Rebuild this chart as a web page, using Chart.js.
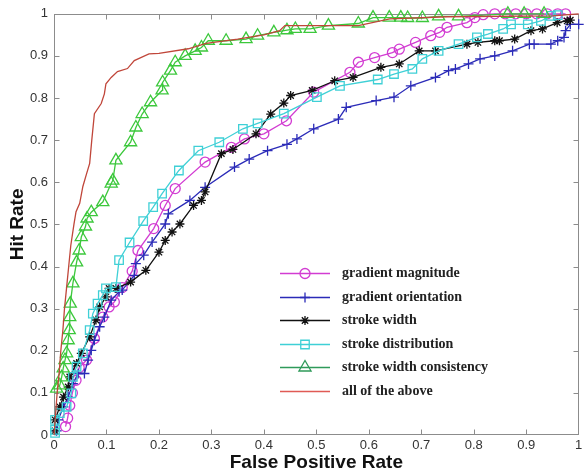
<!DOCTYPE html>
<html>
<head>
<meta charset="utf-8">
<script src="https://cdn.jsdelivr.net/npm/chart.js@4/dist/chart.umd.min.js"></script>
<style>
html,body{margin:0;padding:0;background:#fff;}
#wrap{width:587px;height:474px;position:relative;}
</style>
</head>
<body>
<div id="wrap"><canvas id="c" width="587" height="474"></canvas></div>
<script>
// ---- Data ----
const xTickLabels = ['0','0.1','0.2','0.3','0.4','0.5','0.6','0.7','0.8','0.9','1'];
const yTickLabels = ['0','0.1','0.2','0.3','0.4','0.5','0.6','0.7','0.8','0.9','1'];
const seriesNames = ['gradient magnitude','gradient orientation','stroke width','stroke distribution','stroke width consistency','all of the above'];

const magFpr = [0.022,0.026,0.030,0.035,0.042,0.048,0.062,0.077,0.093,0.105,0.115,0.130,0.149,0.160,0.190,0.212,0.231,0.288,0.338,0.363,0.400,0.443,0.495,0.564,0.580,0.611,0.645,0.658,0.689,0.718,0.735,0.749,0.787,0.802,0.818,0.840,0.860,0.880,0.900,0.920,0.940,0.960,0.975];
const magHit = [0.020,0.040,0.070,0.100,0.130,0.160,0.178,0.229,0.280,0.304,0.316,0.350,0.389,0.438,0.490,0.545,0.585,0.648,0.683,0.703,0.715,0.746,0.814,0.861,0.885,0.896,0.908,0.916,0.932,0.948,0.956,0.968,0.979,0.991,0.998,1.000,1.000,1.000,1.000,1.000,1.000,1.000,1.000];

const oriFpr = [0.005,0.008,0.018,0.027,0.036,0.046,0.058,0.065,0.071,0.077,0.087,0.096,0.109,0.124,0.130,0.153,0.156,0.171,0.187,0.212,0.218,0.259,0.288,0.344,0.372,0.407,0.444,0.463,0.495,0.542,0.557,0.614,0.648,0.680,0.727,0.752,0.765,0.790,0.812,0.840,0.874,0.906,0.915,0.947,0.960,0.972,0.975,0.984,1.000];
const oriHit = [0.010,0.036,0.067,0.090,0.122,0.146,0.146,0.178,0.201,0.225,0.257,0.280,0.320,0.340,0.344,0.379,0.407,0.427,0.458,0.501,0.525,0.557,0.588,0.636,0.655,0.675,0.690,0.703,0.727,0.750,0.778,0.794,0.802,0.829,0.849,0.865,0.869,0.881,0.893,0.900,0.912,0.928,0.928,0.928,0.936,0.944,0.960,0.975,0.975];

const swFpr = [0.002,0.002,0.011,0.018,0.027,0.030,0.043,0.052,0.068,0.080,0.087,0.099,0.105,0.118,0.146,0.175,0.200,0.212,0.225,0.240,0.266,0.281,0.288,0.319,0.341,0.385,0.413,0.438,0.451,0.492,0.535,0.570,0.623,0.658,0.696,0.727,0.787,0.808,0.840,0.849,0.878,0.909,0.931,0.959,0.978,0.984];
const swHit = [0.010,0.036,0.067,0.090,0.114,0.138,0.170,0.194,0.233,0.273,0.304,0.328,0.348,0.348,0.363,0.391,0.434,0.462,0.482,0.501,0.545,0.557,0.577,0.668,0.678,0.715,0.762,0.788,0.806,0.818,0.841,0.849,0.873,0.881,0.912,0.912,0.928,0.932,0.936,0.936,0.940,0.960,0.964,0.979,0.983,0.985];

const sdFpr = [0.002,0.002,0.002,0.011,0.024,0.033,0.036,0.043,0.055,0.068,0.074,0.083,0.093,0.099,0.118,0.124,0.144,0.170,0.189,0.206,0.238,0.275,0.315,0.360,0.388,0.438,0.501,0.545,0.617,0.648,0.683,0.702,0.733,0.771,0.806,0.827,0.856,0.871,0.903,0.928,0.947,0.960];
const sdHit = [0.005,0.012,0.036,0.052,0.067,0.099,0.138,0.162,0.194,0.249,0.288,0.312,0.332,0.348,0.351,0.415,0.457,0.508,0.541,0.573,0.628,0.675,0.695,0.727,0.740,0.763,0.802,0.829,0.844,0.857,0.869,0.893,0.912,0.928,0.944,0.952,0.964,0.975,0.975,0.983,0.995,0.997];

const swcFpr = [0.005,0.011,0.0145,0.0175,0.021,0.024,0.027,0.029,0.030,0.031,0.036,0.043,0.048,0.052,0.060,0.063,0.071,0.093,0.109,0.112,0.118,0.146,0.156,0.168,0.184,0.206,0.207,0.222,0.231,0.250,0.269,0.281,0.294,0.328,0.366,0.388,0.419,0.444,0.460,0.488,0.523,0.580,0.608,0.639,0.661,0.674,0.702,0.733,0.771,0.865,0.896,0.934];
const swcHit = [0.110,0.118,0.137,0.158,0.178,0.194,0.225,0.249,0.280,0.312,0.360,0.410,0.438,0.470,0.495,0.514,0.529,0.553,0.597,0.604,0.652,0.695,0.730,0.762,0.790,0.818,0.837,0.865,0.885,0.900,0.912,0.920,0.936,0.936,0.940,0.948,0.956,0.961,0.964,0.964,0.972,0.977,0.991,0.991,0.991,0.990,0.990,0.994,0.994,1.000,1.000,1.000];

const allFpr = [0.000,0.003,0.006,0.010,0.013,0.017,0.020,0.024,0.028,0.032,0.038,0.042,0.049,0.055,0.062,0.068,0.072,0.077,0.090,0.096,0.099,0.109,0.121,0.140,0.153,0.181,0.200,0.256,0.290,0.350,0.400,0.430,0.440,0.580,0.640,0.750,0.950,1.000];
const allHit = [0.000,0.050,0.100,0.150,0.200,0.250,0.300,0.350,0.400,0.450,0.500,0.530,0.550,0.590,0.620,0.645,0.700,0.763,0.787,0.810,0.834,0.849,0.863,0.870,0.889,0.905,0.906,0.917,0.930,0.940,0.950,0.960,0.972,0.972,0.988,0.993,0.995,1.000];

// ---- Styles ----
const colors = ['#d23cd2','#2b2bb8','#111111','#3fd0d6','#3cc83c','#c0463a'];
const legendColors = ['#d23cd2','#2b2bb8','#111111','#3fd0d6','#2f9a5a','#e05a55'];
const pStyles = ['circle','cross','star','rect','triangle',false];
const pRadius = [5,5,4.5,6,7,0];

function pts(xs, ys){ return xs.map((v,i)=>({x:v,y:ys[i]})); }
const allData = [pts(magFpr,magHit),pts(oriFpr,oriHit),pts(swFpr,swHit),pts(sdFpr,sdHit),pts(swcFpr,swcHit),pts(allFpr,allHit)];

const datasets = allData.map((d,i)=>({
  label: seriesNames[i],
  data: d,
  showLine: true,
  borderColor: colors[i],
  backgroundColor: 'rgba(0,0,0,0)',
  pointBorderColor: colors[i],
  pointBackgroundColor: 'rgba(0,0,0,0)',
  borderWidth: 1.3,
  pointBorderWidth: 1.3,
  pointStyle: pStyles[i] || 'circle',
  pointRadius: pRadius[i],
  pointHoverRadius: pRadius[i],
  tension: 0,
  clip: false
}));
datasets.reverse(); // draw order: first series on top

const framePlugin = {
  id:'frame',
  beforeDatasetsDraw(chart){
    const {ctx, chartArea:a, scales} = chart;
    ctx.save();
    ctx.strokeStyle = '#8c8c8c';
    ctx.lineWidth = 1;
    const L=Math.round(a.left)+0.5, R=Math.round(a.right)-0.5, T=Math.round(a.top)+0.5, B=Math.round(a.bottom)-0.5;
    ctx.strokeRect(L,T,R-L,B-T);
    ctx.beginPath();
    for(let i=1;i<xTickLabels.length-1;i++){
      const px = Math.round(scales.x.getPixelForValue(i/10))+0.5;
      ctx.moveTo(px,B); ctx.lineTo(px,B-5);
      ctx.moveTo(px,T); ctx.lineTo(px,T+5);
    }
    for(let i=1;i<yTickLabels.length-1;i++){
      const py = Math.round(scales.y.getPixelForValue(i/10))+0.5;
      ctx.moveTo(L,py); ctx.lineTo(L+5,py);
      ctx.moveTo(R,py); ctx.lineTo(R-5,py);
    }
    ctx.stroke();
    ctx.restore();
  },
  afterDraw(chart){
    const ctx = chart.ctx;
    ctx.save();
    const rows = [273,297,320,344,367,391];
    ctx.textBaseline = 'middle';
    ctx.textAlign = 'left';
    rows.forEach((y,i)=>{
      ctx.strokeStyle = legendColors[i];
      ctx.lineWidth = 1.5;
      ctx.beginPath(); ctx.moveTo(280,y+0.5); ctx.lineTo(330,y+0.5); ctx.stroke();
      if(pStyles[i]){
        ctx.lineWidth = 1.3;
        ctx.fillStyle = 'rgba(0,0,0,0)';
        Chart.helpers.drawPoint(ctx,{pointStyle:pStyles[i],radius:pRadius[i],borderWidth:1.3,rotation:0},305,y+0.5);
      }
      ctx.font = 'bold 14px "Liberation Serif", "Times New Roman", serif';
      ctx.fillStyle = '#222';
      ctx.fillText(seriesNames[i],342,y);
    });
    ctx.restore();
  }
};

new Chart(document.getElementById('c'),{
  type:'scatter',
  data:{datasets},
  options:{
    responsive:false,
    animation:false,
    devicePixelRatio:1,
    layout:{padding:{top:13,right:2,left:0,bottom:0}},
    plugins:{legend:{display:false},tooltip:{enabled:false}},
    scales:{
      x:{
        type:'linear',min:0,max:1,
        border:{display:false},
        grid:{display:false,drawTicks:false},
        ticks:{stepSize:0.1,padding:3,color:'#333',font:{family:'"Liberation Sans", Arial, sans-serif',size:13},
          callback:(v)=>xTickLabels[Math.round(v*10)]},
        title:{display:true,text:'False Positive Rate',color:'#111',font:{family:'"Liberation Sans", Arial, sans-serif',size:19,weight:'bold'},padding:{top:0,bottom:0}},
        afterFit:(s)=>{s.height=39;}
      },
      y:{
        type:'linear',min:0,max:1,
        border:{display:false},
        grid:{display:false,drawTicks:false},
        ticks:{stepSize:0.1,padding:6,color:'#333',font:{family:'"Liberation Sans", Arial, sans-serif',size:13},
          callback:(v)=>yTickLabels[Math.round(v*10)]},
        title:{display:true,text:'Hit Rate',color:'#111',font:{family:'"Liberation Sans", Arial, sans-serif',size:19,weight:'bold'},padding:{top:6,bottom:0}},
        afterFit:(s)=>{s.width=54;}
      }
    }
  },
  plugins:[framePlugin]
});
</script>
</body>
</html>
